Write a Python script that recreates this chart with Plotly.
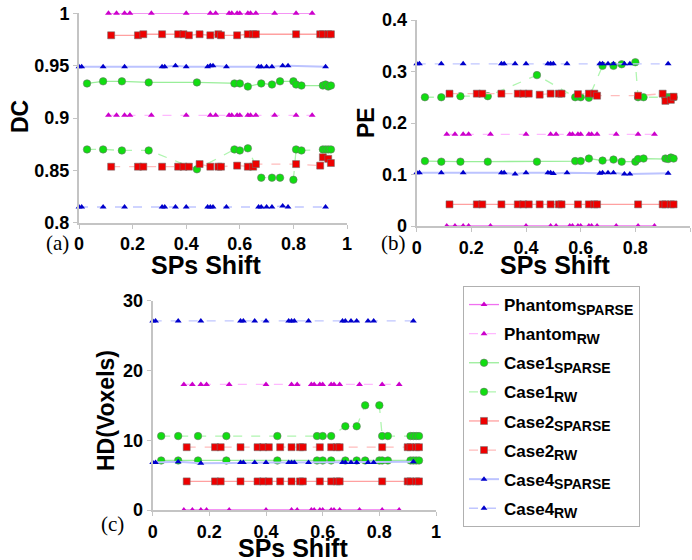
import plotly.graph_objects as go

# ---------------- data ----------------
x_phantom = [0.11, 0.14, 0.17, 0.19, 0.27, 0.40, 0.49, 0.51, 0.56, 0.57, 0.59, 0.60, 0.63, 0.64, 0.66, 0.73, 0.81, 0.87]
x_case1 = [0.03, 0.09, 0.16, 0.26, 0.44, 0.58, 0.60, 0.63, 0.68, 0.72, 0.75, 0.80, 0.81, 0.83, 0.91, 0.92, 0.93, 0.94]
x_case2 = [0.12, 0.22, 0.24, 0.31, 0.37, 0.39, 0.41, 0.45, 0.49, 0.52, 0.53, 0.59, 0.63, 0.65, 0.66, 0.81, 0.90, 0.91, 0.93, 0.94]
x_case4 = [0.00, 0.01, 0.09, 0.17, 0.31, 0.32, 0.36, 0.40, 0.48, 0.49, 0.50, 0.55, 0.67, 0.68, 0.70, 0.72, 0.76, 0.78, 0.92]

# DC
dc_phantom_sparse = [1.0, 1.0, 1.0, 1.0, 1.0, 1.0, 1.0, 1.0, 1.0, 1.0, 1.0, 1.0, 1.0, 1.0, 1.0, 1.0, 1.0, 1.0]
dc_phantom_rw = [0.9026, 0.9026, 0.9026, 0.9026, 0.9026, 0.9026, 0.9026, 0.9026, 0.9026, 0.9026, 0.9026, 0.9026, 0.9026, 0.9026, 0.9026, 0.9026, 0.9026, 0.9026]
dc_case1_sparse = [0.933, 0.935, 0.935, 0.934, 0.934, 0.933, 0.933, 0.930, 0.933, 0.932, 0.935, 0.935, 0.932, 0.931, 0.931, 0.932, 0.930, 0.931]
dc_case1_rw = [0.870, 0.870, 0.869, 0.869, 0.851, 0.870, 0.869, 0.871, 0.843, 0.843, 0.843, 0.841, 0.870, 0.869, 0.870, 0.870, 0.870, 0.870]
dc_case2_sparse = [0.979, 0.979, 0.980, 0.980, 0.980, 0.980, 0.979, 0.980, 0.979, 0.980, 0.979, 0.979, 0.980, 0.980, 0.980, 0.980, 0.980, 0.980, 0.980, 0.980]
dc_case2_rw = [0.8535, 0.8535, 0.8535, 0.8535, 0.8535, 0.8535, 0.8535, 0.856, 0.8535, 0.8535, 0.8535, 0.8545, 0.8535, 0.8535, 0.856, 0.856, 0.8545, 0.8625, 0.861, 0.857]
dc_case4_sparse = [0.949, 0.949, 0.949, 0.949, 0.949, 0.949, 0.950, 0.949, 0.949, 0.950, 0.950, 0.949, 0.949, 0.949, 0.949, 0.949, 0.950, 0.950, 0.949]
dc_case4_rw = [0.815, 0.815, 0.815, 0.815, 0.815, 0.815, 0.815, 0.815, 0.815, 0.815, 0.815, 0.815, 0.815, 0.815, 0.815, 0.815, 0.816, 0.815, 0.815]

# PE
pe_phantom_sparse = [0.0, 0.0, 0.0, 0.0, 0.0, 0.0, 0.0, 0.0, 0.0, 0.0, 0.0, 0.0, 0.0, 0.0, 0.0, 0.0, 0.0, 0.0]
pe_phantom_rw = [0.178, 0.178, 0.178, 0.178, 0.178, 0.178, 0.178, 0.178, 0.178, 0.178, 0.178, 0.178, 0.178, 0.178, 0.178, 0.178, 0.178, 0.178]
pe_case1_sparse = [0.126, 0.125, 0.125, 0.125, 0.125, 0.126, 0.126, 0.131, 0.127, 0.129, 0.125, 0.125, 0.130, 0.131, 0.131, 0.130, 0.133, 0.131]
pe_case1_rw = [0.250, 0.250, 0.252, 0.252, 0.293, 0.250, 0.250, 0.249, 0.311, 0.311, 0.314, 0.318, 0.250, 0.250, 0.250, 0.250, 0.250, 0.250]
pe_case2_sparse = [0.042, 0.042, 0.042, 0.042, 0.042, 0.042, 0.042, 0.042, 0.042, 0.042, 0.042, 0.042, 0.042, 0.042, 0.042, 0.042, 0.042, 0.042, 0.042, 0.042]
pe_case2_rw = [0.257, 0.257, 0.257, 0.257, 0.257, 0.257, 0.257, 0.255, 0.257, 0.257, 0.257, 0.256, 0.257, 0.257, 0.253, 0.253, 0.257, 0.243, 0.245, 0.251]
pe_case4_sparse = [0.1035, 0.1035, 0.1035, 0.1035, 0.1035, 0.1035, 0.101, 0.1035, 0.1035, 0.1035, 0.102, 0.1035, 0.1025, 0.1035, 0.1035, 0.1035, 0.101, 0.101, 0.1025]
pe_case4_rw = [0.315, 0.315, 0.315, 0.315, 0.315, 0.315, 0.315, 0.315, 0.315, 0.315, 0.315, 0.315, 0.315, 0.315, 0.315, 0.315, 0.315, 0.315, 0.315]

# HD
hd_phantom_sparse = [0, 0, 0, 0, 0, 0, 0, 0, 0, 0, 0, 0, 0, 0, 0, 0, 0, 0]
hd_phantom_rw = [18, 18, 18, 18, 18, 18, 18, 18, 18, 18, 18, 18, 18, 18, 18, 18, 18, 18]
hd_case1_sparse = [7.1, 7.1, 7.1, 7.1, 7.1, 7.1, 7.1, 7.1, 7.1, 7.1, 7.1, 7.1, 7.1, 7.1, 7.1, 7.1, 7.1, 7.1]
hd_case1_rw = [10.6, 10.6, 10.6, 10.6, 10.6, 10.6, 10.6, 10.6, 12.0, 12.0, 15.0, 15.0, 10.6, 10.6, 10.6, 10.6, 10.6, 10.6]
hd_case2_sparse = [4.1, 4.1, 4.1, 4.1, 4.1, 4.1, 4.1, 4.1, 4.1, 4.1, 4.1, 4.1, 4.1, 4.1, 4.1, 4.1, 4.1, 4.1, 4.1, 4.1]
hd_case2_rw = [9.0, 9.0, 9.0, 9.0, 9.0, 9.0, 9.0, 9.0, 9.0, 9.0, 9.0, 9.0, 9.0, 9.0, 9.0, 9.0, 9.0, 9.0, 9.0, 9.0]
hd_case4_sparse = [6.8, 6.8, 6.9, 6.7, 6.8, 6.8, 6.8, 6.8, 6.8, 6.8, 6.8, 6.8, 6.8, 6.8, 6.8, 6.8, 6.8, 6.8, 6.9]
hd_case4_rw = [27.1, 27.1, 27.1, 27.1, 27.1, 27.1, 27.1, 27.1, 27.1, 27.1, 27.1, 27.1, 27.1, 27.1, 27.1, 27.1, 27.1, 27.1, 27.1]

series_labels = ["Phantom", "Phantom", "Case1", "Case1", "Case2", "Case2", "Case4", "Case4"]
method_labels = ["SPARSE", "RW", "SPARSE", "RW", "SPARSE", "RW", "SPARSE", "RW"]

x_ticks = [0, 0.2, 0.4, 0.6, 0.8, 1]
x_tick_labels = ["0", "0.2", "0.4", "0.6", "0.8", "1"]
dc_ticks = [0.8, 0.85, 0.9, 0.95, 1]
dc_tick_labels = ["0.8", "0.85", "0.9", "0.95", "1"]
pe_ticks = [0, 0.1, 0.2, 0.3, 0.4]
pe_tick_labels = ["0", "0.1", "0.2", "0.3", "0.4"]
hd_ticks = [0, 10, 20, 30]
hd_tick_labels = ["0", "10", "20", "30"]

# ---------------- styles ----------------
styles = [
    dict(mc="#cc00cc", lc="#f070f0", sym="triangle-up", size=6, dash="solid", w=1.3),
    dict(mc="#cc00cc", lc="#ffb8ff", sym="triangle-up", size=6, dash="9px,9px", w=1.3),
    dict(mc="#11dd11", lc="#99ee99", sym="circle", size=7.5, dash="solid", w=1.3),
    dict(mc="#11dd11", lc="#b0f5b0", sym="circle", size=7.5, dash="9px,9px", w=1.3),
    dict(mc="#ee0000", lc="#ffa0a0", sym="square", size=7, dash="solid", w=1.3),
    dict(mc="#ee0000", lc="#ffbcbc", sym="square", size=7, dash="9px,9px", w=1.3),
    dict(mc="#0000cc", lc="#bcc3ff", sym="triangle-up", size=6, dash="solid", w=2.0),
    dict(mc="#0000cc", lc="#c0c6ff", sym="triangle-up", size=6, dash="9px,9px", w=1.3),
]

xs = [x_phantom, x_phantom, x_case1, x_case1, x_case2, x_case2, x_case4, x_case4]
panels = [
    ("x", "y", [dc_phantom_sparse, dc_phantom_rw, dc_case1_sparse, dc_case1_rw,
                dc_case2_sparse, dc_case2_rw, dc_case4_sparse, dc_case4_rw]),
    ("x2", "y2", [pe_phantom_sparse, pe_phantom_rw, pe_case1_sparse, pe_case1_rw,
                  pe_case2_sparse, pe_case2_rw, pe_case4_sparse, pe_case4_rw]),
    ("x3", "y3", [hd_phantom_sparse, hd_phantom_rw, hd_case1_sparse, hd_case1_rw,
                  hd_case2_sparse, hd_case2_rw, hd_case4_sparse, hd_case4_rw]),
]

fig = go.Figure()
for p, (xa, ya, ys) in enumerate(panels):
    for i, (xv, yv) in enumerate(zip(xs, ys)):
        s = styles[i]
        has_outline = s["sym"] in ("circle", "square")
        name = (f"<b>{series_labels[i]}</b><sub><b><span style='font-size:14px'>"
                f"{method_labels[i]}</span></b></sub>")
        fig.add_trace(go.Scatter(
            x=xv, y=yv, xaxis=xa, yaxis=ya, mode="lines+markers",
            name=name, legendgroup=f"{series_labels[i]}_{method_labels[i]}", showlegend=(p == 0),
            line=dict(color=s["lc"], width=s["w"], dash=s["dash"]),
            marker=dict(symbol=s["sym"], size=s["size"], color=s["mc"],
                        line=dict(width=1 if has_outline else 0, color="rgba(110,110,110,0.55)")),
            cliponaxis=False,
        ))

W, H = 692, 560
def xd(a, b):
    return [a / W, b / W]
def yd(top, bottom):
    return [(H - bottom) / H, (H - top) / H]

FONT = "Liberation Sans, Arial"
tickfont = dict(family=FONT, size=18, color="black", weight="bold")
axis_common = dict(showgrid=False, zeroline=False, showline=True, linecolor="#c4c4c4", linewidth=2,
                   ticks="outside", ticklen=4, tickcolor="#c4c4c4", tickwidth=1, tickfont=tickfont)

def bold(lst):
    return [f"<b>{t}</b>" for t in lst]

fig.update_layout(
    width=W, height=H, margin=dict(l=0, r=0, t=0, b=0),
    paper_bgcolor="white", plot_bgcolor="white", template="none",
    showlegend=True,
    xaxis=dict(domain=xd(79, 347), anchor="y", range=[0, 1], tickvals=x_ticks, ticktext=bold(x_tick_labels), **axis_common),
    yaxis=dict(domain=yd(13.3, 222.7), anchor="x", range=[0.8, 1], tickvals=dc_ticks, ticktext=bold(dc_tick_labels), **axis_common),
    xaxis2=dict(domain=xd(416.7, 690), anchor="y2", range=[0, 1], tickvals=x_ticks, ticktext=bold(x_tick_labels), **axis_common),
    yaxis2=dict(domain=yd(20, 226), anchor="x2", range=[0, 0.4], tickvals=pe_ticks, ticktext=bold(pe_tick_labels), **axis_common),
    xaxis3=dict(domain=xd(152.7, 436), anchor="y3", range=[0, 1], tickvals=x_ticks, ticktext=bold(x_tick_labels), **axis_common),
    yaxis3=dict(domain=yd(300.7, 510), anchor="x3", range=[0, 30], tickvals=hd_ticks, ticktext=bold(hd_tick_labels), **axis_common),
    legend=dict(x=463 / W, y=(H - 286) / H, xanchor="left", yanchor="top",
                bordercolor="#b0b0b0", borderwidth=1, bgcolor="white",
                font=dict(family=FONT, size=17, color="black"),
                tracegroupgap=4, itemwidth=30),
)

# axis titles (placed as annotations to match the reference positions)
titles = [
    ("<b>SPs Shift</b>", 206, 265, 0, 25),
    ("<b>SPs Shift</b>", 555, 265, 0, 25),
    ("<b>SPs Shift</b>", 293, 548, 0, 25),
    ("<b>DC</b>", 20, 117, -90, 23),
    ("<b>PE</b>", 366, 123, -90, 23),
    ("<b>HD(Voxels)</b>", 106, 411, -90, 23),
]
for txt, px, py, ang, fs in titles:
    fig.add_annotation(text=txt, x=px / W, y=(H - py) / H, xref="paper", yref="paper",
                       showarrow=False, xanchor="center", yanchor="middle", textangle=ang,
                       font=dict(family=FONT, size=fs, color="black"))

panel_labels = [("(a)", 57, 243), ("(b)", 393, 243), ("(c)", 112, 524)]
for txt, px, py in panel_labels:
    fig.add_annotation(text=txt, x=px / W, y=(H - py) / H, xref="paper", yref="paper",
                       showarrow=False, xanchor="center", yanchor="middle",
                       font=dict(family="Liberation Serif, Times New Roman", size=21, color="black"))

fig.write_html("out.html")
